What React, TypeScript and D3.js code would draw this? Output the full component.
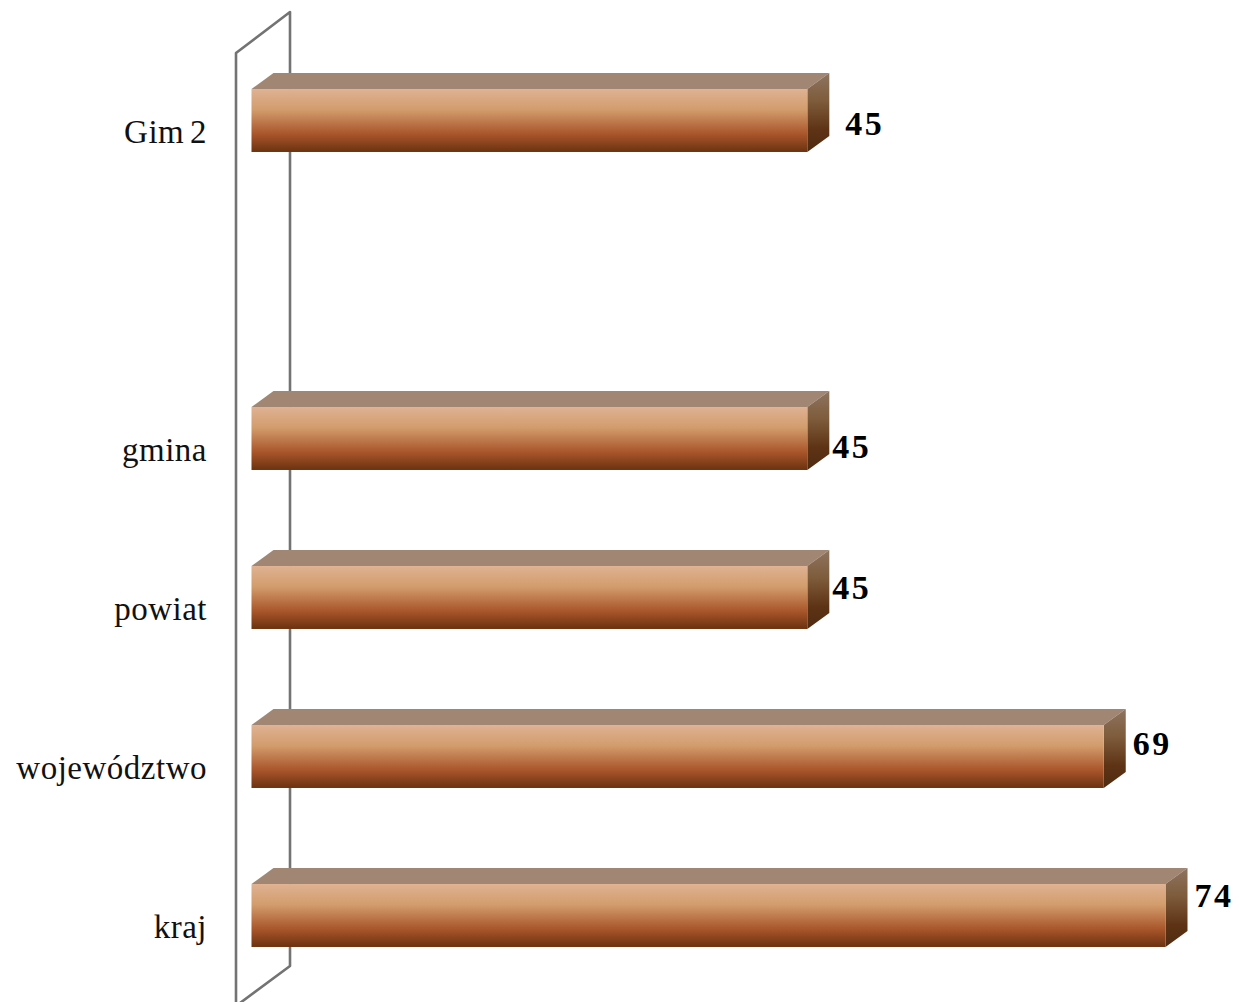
import React from "react";
import * as d3 from "d3";

const categories = ["Gim 2", "", "gmina", "powiat", "województwo", "kraj"];
const values = [45, null, 45, 45, 69, 74];
const labelDx = [38, 0, 25, 25, 29, 29];
const labelDy = [35, 0, 40, 22, 19, 12];

const W = 1239, H = 1002;
const DX = 22, DY = -16;
const FONT = "'Liberation Serif', serif";

const x = d3.scaleLinear().domain([0, 74]).range([251.5, 1165.5]);
const y = d3.scaleBand().domain(categories.map((c, i) => String(i))).range([41, 995]).paddingInner(0.604).paddingOuter(0.302);

const line = d3.line();

export default function App() {
  const wall = line([[236, 1004], [236, 53], [290, 12], [290, 966], [236, 1006]]);
  return (
    <svg width={W} height={H} style={{ position: "absolute", left: 0, top: 0, background: "#fff" }}>
      <defs>
        <linearGradient id="front" x1="0" y1="0" x2="0" y2="1">
          <stop offset="0" stopColor="#dfb294" />
          <stop offset="0.33" stopColor="#d29c6c" />
          <stop offset="0.72" stopColor="#a8552a" />
          <stop offset="1" stopColor="#6a320f" />
        </linearGradient>
        <linearGradient id="side" x1="0" y1="0" x2="0" y2="1">
          <stop offset="0" stopColor="#8e7460" />
          <stop offset="0.35" stopColor="#7e5c3c" />
          <stop offset="0.72" stopColor="#5e3315" />
          <stop offset="1" stopColor="#4f2a10" />
        </linearGradient>
      </defs>
      <path d={wall!} fill="none" stroke="#737373" strokeWidth={2.6} strokeLinejoin="round" />
      {categories.map((c, i) => {
        const v = values[i];
        const top = y(String(i))!;
        const h = y.bandwidth();
        const cy = top + h / 2;
        const x0 = x(0);
        return (
          <g key={i}>
            {c && (
              <text
                x={207}
                y={cy + 22.5}
                textAnchor="end"
                fontFamily={FONT}
                fontSize={33}
                letterSpacing={0.5}
                wordSpacing={-3}
                fill="#111"
              >
                {c}
              </text>
            )}
            {v != null && (
              <>
                <path
                  d={line([[x0, top], [x0 + DX, top + DY], [x(v) + DX, top + DY], [x(v), top]])!}
                  fill="#a18674"
                />
                <path
                  d={line([[x(v), top], [x(v) + DX, top + DY], [x(v) + DX, top + h + DY], [x(v), top + h]])!}
                  fill="url(#side)"
                />
                <rect x={x0} y={top} width={x(v) - x0} height={h} fill="url(#front)" />
                <text
                  x={x(v) + labelDx[i]}
                  y={top + labelDy[i] + 11}
                  fontFamily={FONT}
                  fontWeight="bold"
                  fontSize={34}
                  letterSpacing={2.4}
                  fill="#000"
                >
                  {v}
                </text>
              </>
            )}
          </g>
        );
      })}
    </svg>
  );
}
